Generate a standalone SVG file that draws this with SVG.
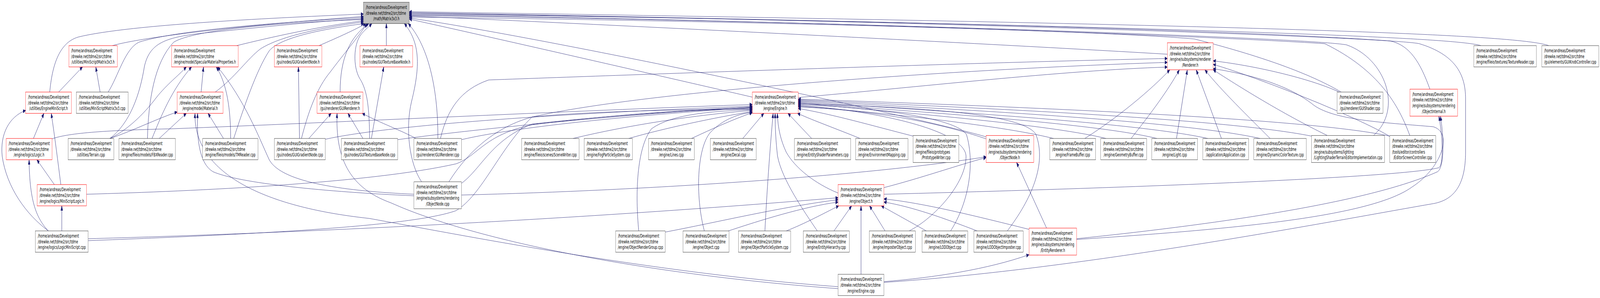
<svg xmlns="http://www.w3.org/2000/svg" width="7367" height="764" viewBox="0 0 7367 764" preserveAspectRatio="none">
<defs>
<marker id="ah" viewBox="0 0 12 10" refX="12" refY="5" markerWidth="12" markerHeight="10" markerUnits="userSpaceOnUse" orient="auto">
<path d="M0,0.5 L12,5 L0,9.5 Z" fill="#191970" stroke="#191970" stroke-width="1"/>
</marker>
<style>
svg{width:100vw;height:100vh;display:block}
.e{fill:none;stroke:#191970;stroke-width:1;marker-end:url(#ah)}
.n rect{fill:#ffffff;stroke:#404040;stroke-width:1}
.n.r rect{stroke:#ff0000}
.n.root rect{fill:#bfbfbf}
text{font-family:"DejaVu Sans","Liberation Sans",sans-serif;font-size:13px;fill:#000000}
.c{text-anchor:middle}
</style>
</defs>
<rect x="0" y="0" width="7367" height="764" fill="#ffffff"/>
<g id="edges">
<path class="e" d="M229,236 C240,170 270,110 360,95 C600,62 1300,45 1673.5,36"/>
<path class="e" d="M518,117 C620,100 1000,70 1673.5,42"/>
<path class="e" d="M498,236 C545,195 575,125 640,108 C800,80 1200,60 1673.5,45"/>
<path class="e" d="M506,355 C600,315 645,240 665,170 C690,110 760,95 950,84 C1200,70 1450,55 1673.5,48"/>
<path class="e" d="M679,355 C683,260 710,160 800,108 C900,75 1300,58 1673.5,50"/>
<path class="e" d="M1090,117 C1250,95 1450,70 1673.5,53"/>
<path class="e" d="M991,236 C1080,200 1140,150 1200,125 C1300,90 1500,70 1673.5,56"/>
<path class="e" d="M1076,355 C1120,280 1180,180 1240,130 C1300,90 1550,70 1676,60.4"/>
<path class="e" d="M1469,117 C1560,95 1640,75 1684,60.4"/>
<path class="e" d="M1388,355 C1420,285 1460,225 1520,185 C1580,140 1650,95 1690,60.4"/>
<path class="e" d="M1566,236 C1566,150 1610,95 1698,60.4"/>
<path class="e" d="M1702,355 C1700,270 1690,230 1655,200 C1625,170 1628,115 1660,90 C1676,78 1700,68 1712,60.4"/>
<path class="e" d="M1779,117 L1779,60.4"/>
<path class="e" d="M1941,466 C1885,420 1865,330 1895,260 C1935,170 1935,110 1862,60.4"/>
<path class="e" d="M2016,355 C2018,260 1990,130 1880,60.4"/>
<path class="e" d="M5375,139 C4500,110 2500,55 1884.5,41"/>
<path class="e" d="M3464,249 C3200,215 2300,100 1884.5,49"/>
<path class="e" d="M4541,351 C4300,310 2600,105 1884.5,46"/>
<path class="e" d="M7131,117 C7000,90 6000,65 1884.5,30"/>
<path class="e" d="M6819,117 C6720,100 6000,75 1884.5,32"/>
<path class="e" d="M6584,229 C6540,160 6490,115 6400,105 C5800,80 4000,50 1884.5,36"/>
<path class="e" d="M6491,347 C6440,270 6350,180 6100,112 C5500,90 3500,50 1884.5,38"/>
<path class="e" d="M6325,347 C6460,280 6380,150 6200,115 C6000,95 3500,50 1884.5,40"/>
<path class="e" d="M4070,724 C5000,690 6200,560 6600,522 C6700,512 6748,470 6748,390 L6748,253 C6748,190 6700,140 6535,112 C6400,95 4000,50 1884.5,34"/>
<path class="e" d="M6175,236 C6050,195 5850,150 5500,100 C5000,75 3000,50 1884.5,44"/>
<path class="e" d="M270,236 L380,171.6"/>
<path class="e" d="M154,355 L202,290.6"/>
<path class="e" d="M280,473 C268,420 252,350 236,290.6"/>
<path class="e" d="M223,592 C120,550 30,480 10,400 C0,345 40,300 118,283"/>
<path class="e" d="M461,236 L441,171.6"/>
<path class="e" d="M250,473 L170,409.6"/>
<path class="e" d="M222,592 C170,560 136,520 134,409.6"/>
<path class="e" d="M284.5,592 L284.5,527.8"/>
<path class="e" d="M239,356 C320,340 500,334 800,330 C1500,315 2800,280 3464,268"/>
<path class="e" d="M398,498 C900,490 1700,470 2100,420 C2200,400 2230,345 2450,320 C2800,295 3200,280 3464,275"/>
<path class="e" d="M406,612 C1200,600 2500,570 3859,507"/>
<path class="e" d="M406,617 C1200,600 1900,580 2100,540 C2220,500 2300,380 2450,300 C2700,285 3200,280 3464,280"/>
<path class="e" d="M926,236 L937,171.6"/>
<path class="e" d="M700,355 C740,300 790,230 882,171.6"/>
<path class="e" d="M733,355 L858,290.6"/>
<path class="e" d="M1029,355 L958,290.6"/>
<path class="e" d="M1062,355 C1062,280 1045,215 996,171.6"/>
<path class="e" d="M506,355 C600,330 680,280 720,250 C770,215 820,195 858,171.6"/>
<path class="e" d="M506,355 C600,338 720,305 816,287"/>
<path class="e" d="M1906,498 C1600,490 1300,470 1240,410 C1190,350 1130,260 1002,171.6"/>
<path class="e" d="M3859,735 C3000,700 2100,600 1700,560 C1200,530 890,440 898,290.6"/>
<path class="e" d="M1906,502 C1500,492 1100,470 980,440 C920,420 905,360 910,290.6"/>
<path class="e" d="M3859,740 C3000,705 2200,620 1800,520 C1600,480 1545,400 1552,290.6"/>
<path class="e" d="M1379,355 L1374,171.6"/>
<path class="e" d="M1422,355 L1525,290.6"/>
<path class="e" d="M1710,355 L1767,171.6"/>
<path class="e" d="M1671,355 L1602,290.6"/>
<path class="e" d="M1915,355 C1850,335 1750,315 1668,290.6"/>
<path class="e" d="M1498,357 C1800,320 2600,290 3464,272"/>
<path class="e" d="M1831,358 C2200,330 2900,292 3464,274"/>
<path class="e" d="M2125,358 C2400,322 3000,292 3464,276"/>
<path class="e" d="M2028,355 C2060,280 2120,230 2250,205 C3000,190 4500,160 5375,150"/>
<path class="e" d="M2125,470 C2220,430 2260,360 2450,318 C2900,290 3300,280 3464,278"/>
<path class="e" d="M2067,466 C2130,410 2250,330 2450,300 C3000,230 4500,175 5375,160"/>
<path class="e" d="M2125,500 C3000,488 4000,450 4540.5,402"/>
<path class="e" d="M3420,355 L3517,290.6"/>
<path class="e" d="M3522,592 C3530,500 3545,380 3560,290.6"/>
<path class="e" d="M3763,592 C3700,540 3600,460 3580,400 C3572,360 3569,330 3569,290.6"/>
<path class="e" d="M3859,495 C3750,470 3660,430 3620,390 C3595,360 3582,330 3579,290.6"/>
<path class="e" d="M3737,355 L3628,290.6"/>
<path class="e" d="M3960,355 C3850,330 3750,310 3672,290.6"/>
<path class="e" d="M4205,349 C4000,320 3850,295 3675,278"/>
<path class="e" d="M3184,355 C3280,330 3380,305 3464,289"/>
<path class="e" d="M2895,355 C3050,330 3300,300 3464,286"/>
<path class="e" d="M2638,355 C2900,320 3200,295 3464,283"/>
<path class="e" d="M2941,592 C2925,500 2930,380 3000,330 C3100,290 3300,285 3464,281"/>
<path class="e" d="M3243,592 C3200,500 3210,380 3270,340 C3330,305 3400,292 3464,288"/>
<path class="e" d="M4377,592 C4460,520 4490,420 4450,345 C4400,300 4000,275 3675,268"/>
<path class="e" d="M4638,592 C4750,510 4820,420 4770,345 C4720,295 4300,275 3675,266"/>
<path class="e" d="M4186,592 C4300,560 4450,470 4448,400 C4440,330 4000,282 3675,270"/>
<path class="e" d="M4851,355 C4600,320 4000,285 3675,272"/>
<path class="e" d="M5093,355 C4800,315 4000,282 3675,264"/>
<path class="e" d="M5327,355 C5000,310 4000,280 3675,262"/>
<path class="e" d="M5561,355 C5200,310 4100,278 3675,260"/>
<path class="e" d="M5802,355 C5400,305 4200,275 3675,258"/>
<path class="e" d="M6039,349 C5600,300 4300,272 3675,256"/>
<path class="e" d="M6399,349 C6000,300 4500,270 3675,254"/>
<path class="e" d="M4541,356 C4300,310 4000,282 3675,274"/>
<path class="e" d="M4995,355 C5150,300 5300,230 5386,179.2"/>
<path class="e" d="M5208,355 C5300,290 5380,230 5430,179.2"/>
<path class="e" d="M5417,355 L5467,179.2"/>
<path class="e" d="M5624,355 L5508,179.2"/>
<path class="e" d="M5848,355 C5750,300 5620,230 5548,179.2"/>
<path class="e" d="M6110,347 C5900,290 5700,220 5586,179"/>
<path class="e" d="M6400,350 C6250,300 5800,200 5586,165"/>
<path class="e" d="M6170,237 C6050,205 5800,170 5586,156"/>
<path class="e" d="M4957,614 C5600,590 6300,560 6500,480 C6640,430 6690,340 6600,325 C6400,315 6150,310 6050,270 C5950,225 5800,195 5586,176"/>
<path class="e" d="M3675,250 C4200,225 4900,180 5375,172"/>
<path class="e" d="M3840,592 L3921,527.8"/>
<path class="e" d="M3964.5,703.2 L3964.5,527.8"/>
<path class="e" d="M4075,592 L4004,527.8"/>
<path class="e" d="M4265,592 L4058,527.8"/>
<path class="e" d="M3354,592 C3500,565 3700,530 3859,518"/>
<path class="e" d="M3620,592 C3700,575 3800,545 3862,527.8"/>
<path class="e" d="M3063,595 C3300,570 3600,530 3859,512"/>
<path class="e" d="M4738,588 C4500,555 4250,520 4070,510"/>
<path class="e" d="M4499,592 C4350,560 4200,530 4070,518"/>
<path class="e" d="M4070,481 C4250,455 4400,425 4540.5,404"/>
<path class="e" d="M4819,585 L4681,416.6"/>
<path class="e" d="M4070,498 C5200,482 6450,455 6625,430 C6650,420 6640,340 6625,297.8"/>
<path class="e" d="M4957,612 C5600,575 6300,520 6620,440 C6652,425 6648,350 6632,297.8"/>
<path class="e" d="M4070,722 C4300,712 4550,690 4738,653"/>
</g>
<g id="node-matrix3x3-h" class="n root"><rect x="1673.5" y="5.8" width="211" height="54.6"/><text x="1684.5" y="23.1">/home/andreas/Development</text><text x="1684.5" y="37.7">/drewke.net/tdme2/src/tdme</text><text class="c" x="1779" y="52.3">/math/Matrix3x3.h</text></g>
<g id="node-miniscriptmatrix3x3-h" class="n r"><rect x="317" y="117" width="223" height="54.6"/><text x="328" y="134.3">/home/andreas/Development</text><text x="328" y="148.9">/drewke.net/tdme2/src/tdme</text><text class="c" x="428.5" y="163.5">/utilities/MiniScriptMatrix3x3.h</text></g>
<g id="node-specularmaterialproperties-h" class="n r"><rect x="790" y="117" width="307" height="54.6"/><text x="801" y="134.3">/home/andreas/Development</text><text x="801" y="148.9">/drewke.net/tdme2/src/tdme</text><text class="c" x="943.5" y="163.5">/engine/model/SpecularMaterialProperties.h</text></g>
<g id="node-guigradientnode-h" class="n r"><rect x="1263" y="117" width="219" height="54.6"/><text x="1274" y="134.3">/home/andreas/Development</text><text x="1274" y="148.9">/drewke.net/tdme2/src/tdme</text><text class="c" x="1372.5" y="163.5">/gui/nodes/GUIGradientNode.h</text></g>
<g id="node-guitexturebasenode-h" class="n r"><rect x="1657" y="117" width="243.5" height="54.6"/><text x="1668" y="134.3">/home/andreas/Development</text><text x="1668" y="148.9">/drewke.net/tdme2/src/tdme</text><text class="c" x="1778.8" y="163.5">/gui/nodes/GUITextureBaseNode.h</text></g>
<g id="node-renderer-h" class="n r"><rect x="5375" y="109.7" width="211" height="69.2"/><text x="5386" y="127">/home/andreas/Development</text><text x="5386" y="141.6">/drewke.net/tdme2/src/tdme</text><text x="5386" y="156.2">/engine/subsystems/renderer</text><text class="c" x="5480.5" y="170.8">/Renderer.h</text></g>
<g id="node-texturereader-cpp" class="n"><rect x="6786" y="117" width="288" height="54.6"/><text x="6797" y="134.3">/home/andreas/Development</text><text x="6797" y="148.9">/drewke.net/tdme2/src/tdme</text><text class="c" x="6930" y="163.5">/engine/fileio/textures/TextureReader.cpp</text></g>
<g id="node-guiknobcontroller-cpp" class="n"><rect x="7099" y="117" width="262.5" height="54.6"/><text x="7110" y="134.3">/home/andreas/Development</text><text x="7110" y="148.9">/drewke.net/tdme2/src/tdme</text><text class="c" x="7230.2" y="163.5">/gui/elements/GUIKnobController.cpp</text></g>
<g id="node-engineminiscript-h" class="n r"><rect x="118" y="236" width="211" height="54.6"/><text x="129" y="253.3">/home/andreas/Development</text><text x="129" y="267.9">/drewke.net/tdme2/src/tdme</text><text class="c" x="223.5" y="282.5">/utilities/EngineMiniScript.h</text></g>
<g id="node-miniscriptmatrix3x3-cpp" class="n"><rect x="352" y="236" width="238" height="54.6"/><text x="363" y="253.3">/home/andreas/Development</text><text x="363" y="267.9">/drewke.net/tdme2/src/tdme</text><text class="c" x="471" y="282.5">/utilities/MiniScriptMatrix3x3.cpp</text></g>
<g id="node-material-h" class="n r"><rect x="816" y="236" width="211" height="54.6"/><text x="827" y="253.3">/home/andreas/Development</text><text x="827" y="267.9">/drewke.net/tdme2/src/tdme</text><text class="c" x="921.5" y="282.5">/engine/model/Material.h</text></g>
<g id="node-guirenderer-h" class="n r"><rect x="1460" y="236" width="211" height="54.6"/><text x="1471" y="253.3">/home/andreas/Development</text><text x="1471" y="267.9">/drewke.net/tdme2/src/tdme</text><text class="c" x="1565.5" y="282.5">/gui/renderer/GUIRenderer.h</text></g>
<g id="node-engine-h" class="n r"><rect x="3464" y="236" width="211" height="54.6"/><text x="3475" y="253.3">/home/andreas/Development</text><text x="3475" y="267.9">/drewke.net/tdme2/src/tdme</text><text class="c" x="3569.5" y="282.5">/engine/Engine.h</text></g>
<g id="node-guishader-cpp" class="n"><rect x="6156.5" y="236" width="211" height="54.6"/><text x="6167.5" y="253.3">/home/andreas/Development</text><text x="6167.5" y="267.9">/drewke.net/tdme2/src/tdme</text><text class="c" x="6262" y="282.5">/gui/renderer/GUIShader.cpp</text></g>
<g id="node-objectinternal-h" class="n r"><rect x="6492" y="228.6" width="219.5" height="69.2"/><text x="6503" y="245.9">/home/andreas/Development</text><text x="6503" y="260.5">/drewke.net/tdme2/src/tdme</text><text x="6503" y="275.1">/engine/subsystems/rendering</text><text class="c" x="6601.8" y="289.7">/ObjectInternal.h</text></g>
<g id="node-logic-h" class="n r"><rect x="28.5" y="355" width="211" height="54.6"/><text x="39.5" y="372.3">/home/andreas/Development</text><text x="39.5" y="386.9">/drewke.net/tdme2/src/tdme</text><text class="c" x="134" y="401.5">/engine/logics/Logic.h</text></g>
<g id="node-terrain-cpp" class="n"><rect x="313.6" y="355" width="211" height="54.6"/><text x="324.6" y="372.3">/home/andreas/Development</text><text x="324.6" y="386.9">/drewke.net/tdme2/src/tdme</text><text class="c" x="419.1" y="401.5">/utilities/Terrain.cpp</text></g>
<g id="node-fbxreader-cpp" class="n"><rect x="547.6" y="355" width="260" height="54.6"/><text x="558.6" y="372.3">/home/andreas/Development</text><text x="558.6" y="386.9">/drewke.net/tdme2/src/tdme</text><text class="c" x="677.6" y="401.5">/engine/fileio/models/FBXReader.cpp</text></g>
<g id="node-tmreader-cpp" class="n"><rect x="933" y="355" width="255" height="54.6"/><text x="944" y="372.3">/home/andreas/Development</text><text x="944" y="386.9">/drewke.net/tdme2/src/tdme</text><text class="c" x="1060.5" y="401.5">/engine/fileio/models/TMReader.cpp</text></g>
<g id="node-guigradientnode-cpp" class="n"><rect x="1263" y="355" width="235" height="54.6"/><text x="1274" y="372.3">/home/andreas/Development</text><text x="1274" y="386.9">/drewke.net/tdme2/src/tdme</text><text class="c" x="1380.5" y="401.5">/gui/nodes/GUIGradientNode.cpp</text></g>
<g id="node-guitexturebasenode-cpp" class="n"><rect x="1572" y="355" width="259" height="54.6"/><text x="1583" y="372.3">/home/andreas/Development</text><text x="1583" y="386.9">/drewke.net/tdme2/src/tdme</text><text class="c" x="1701.5" y="401.5">/gui/nodes/GUITextureBaseNode.cpp</text></g>
<g id="node-guirenderer-cpp" class="n"><rect x="1906" y="355" width="219" height="54.6"/><text x="1917" y="372.3">/home/andreas/Development</text><text x="1917" y="386.9">/drewke.net/tdme2/src/tdme</text><text class="c" x="2015.5" y="401.5">/gui/renderer/GUIRenderer.cpp</text></g>
<g id="node-scenewriter-cpp" class="n"><rect x="2402" y="355" width="264" height="54.6"/><text x="2413" y="372.3">/home/andreas/Development</text><text x="2413" y="386.9">/drewke.net/tdme2/src/tdme</text><text class="c" x="2534" y="401.5">/engine/fileio/scenes/SceneWriter.cpp</text></g>
<g id="node-fogparticlesystem-cpp" class="n"><rect x="2690" y="355" width="222" height="54.6"/><text x="2701" y="372.3">/home/andreas/Development</text><text x="2701" y="386.9">/drewke.net/tdme2/src/tdme</text><text class="c" x="2801" y="401.5">/engine/FogParticleSystem.cpp</text></g>
<g id="node-lines-cpp" class="n"><rect x="2986" y="355" width="211" height="54.6"/><text x="2997" y="372.3">/home/andreas/Development</text><text x="2997" y="386.9">/drewke.net/tdme2/src/tdme</text><text class="c" x="3091.5" y="401.5">/engine/Lines.cpp</text></g>
<g id="node-decal-cpp" class="n"><rect x="3271" y="355" width="211" height="54.6"/><text x="3282" y="372.3">/home/andreas/Development</text><text x="3282" y="386.9">/drewke.net/tdme2/src/tdme</text><text class="c" x="3376.5" y="401.5">/engine/Decal.cpp</text></g>
<g id="node-entityshaderparameters-cpp" class="n"><rect x="3658" y="355" width="259" height="54.6"/><text x="3669" y="372.3">/home/andreas/Development</text><text x="3669" y="386.9">/drewke.net/tdme2/src/tdme</text><text class="c" x="3787.5" y="401.5">/engine/EntityShaderParameters.cpp</text></g>
<g id="node-environmentmapping-cpp" class="n"><rect x="3940" y="355" width="240.5" height="54.6"/><text x="3951" y="372.3">/home/andreas/Development</text><text x="3951" y="386.9">/drewke.net/tdme2/src/tdme</text><text class="c" x="4060.2" y="401.5">/engine/EnvironmentMapping.cpp</text></g>
<g id="node-prototypewriter-cpp" class="n"><rect x="4204.5" y="347.4" width="210.6" height="69.2"/><text x="4215.5" y="364.7">/home/andreas/Development</text><text x="4215.5" y="379.3">/drewke.net/tdme2/src/tdme</text><text x="4215.5" y="393.9">/engine/fileio/prototypes</text><text class="c" x="4309.8" y="408.5">/PrototypeWriter.cpp</text></g>
<g id="node-objectnode-h" class="n r"><rect x="4540.5" y="347.4" width="219" height="69.2"/><text x="4551.5" y="364.7">/home/andreas/Development</text><text x="4551.5" y="379.3">/drewke.net/tdme2/src/tdme</text><text x="4551.5" y="393.9">/engine/subsystems/rendering</text><text class="c" x="4650" y="408.5">/ObjectNode.h</text></g>
<g id="node-framebuffer-cpp" class="n"><rect x="4834" y="355" width="210.6" height="54.6"/><text x="4845" y="372.3">/home/andreas/Development</text><text x="4845" y="386.9">/drewke.net/tdme2/src/tdme</text><text class="c" x="4939.3" y="401.5">/engine/FrameBuffer.cpp</text></g>
<g id="node-geometrybuffer-cpp" class="n"><rect x="5068" y="355" width="211.6" height="54.6"/><text x="5079" y="372.3">/home/andreas/Development</text><text x="5079" y="386.9">/drewke.net/tdme2/src/tdme</text><text class="c" x="5173.8" y="401.5">/engine/GeometryBuffer.cpp</text></g>
<g id="node-light-cpp" class="n"><rect x="5303" y="355" width="211" height="54.6"/><text x="5314" y="372.3">/home/andreas/Development</text><text x="5314" y="386.9">/drewke.net/tdme2/src/tdme</text><text class="c" x="5408.5" y="401.5">/engine/Light.cpp</text></g>
<g id="node-application-cpp" class="n"><rect x="5538" y="355" width="211" height="54.6"/><text x="5549" y="372.3">/home/andreas/Development</text><text x="5549" y="386.9">/drewke.net/tdme2/src/tdme</text><text class="c" x="5643.5" y="401.5">/application/Application.cpp</text></g>
<g id="node-dynamiccolortexture-cpp" class="n"><rect x="5773" y="355" width="241.6" height="54.6"/><text x="5784" y="372.3">/home/andreas/Development</text><text x="5784" y="386.9">/drewke.net/tdme2/src/tdme</text><text class="c" x="5893.8" y="401.5">/engine/DynamicColorTexture.cpp</text></g>
<g id="node-lightingshaderterraineditorimplementation-cpp" class="n"><rect x="6039" y="347.4" width="336" height="69.2"/><text x="6050" y="364.7">/home/andreas/Development</text><text x="6050" y="379.3">/drewke.net/tdme2/src/tdme</text><text x="6050" y="393.9">/engine/subsystems/lighting</text><text class="c" x="6207" y="408.5">/LightingShaderTerrainEditorImplementation.cpp</text></g>
<g id="node-editorscreencontroller-cpp" class="n"><rect x="6399" y="347.4" width="211.5" height="69.2"/><text x="6410" y="364.7">/home/andreas/Development</text><text x="6410" y="379.3">/drewke.net/tdme2/src/tdme</text><text x="6410" y="393.9">/tools/editor/controllers</text><text class="c" x="6504.8" y="408.5">/EditorScreenController.cpp</text></g>
<g id="node-miniscriptlogic-h" class="n r"><rect x="171" y="473.2" width="227" height="54.6"/><text x="182" y="490.5">/home/andreas/Development</text><text x="182" y="505.1">/drewke.net/tdme2/src/tdme</text><text class="c" x="284.5" y="519.7">/engine/logics/MiniScriptLogic.h</text></g>
<g id="node-objectnode-cpp" class="n"><rect x="1906" y="466" width="219" height="69.2"/><text x="1917" y="483.3">/home/andreas/Development</text><text x="1917" y="497.9">/drewke.net/tdme2/src/tdme</text><text x="1917" y="512.5">/engine/subsystems/rendering</text><text class="c" x="2015.5" y="527.1">/ObjectNode.cpp</text></g>
<g id="node-object-h" class="n r"><rect x="3859" y="473.2" width="211" height="54.6"/><text x="3870" y="490.5">/home/andreas/Development</text><text x="3870" y="505.1">/drewke.net/tdme2/src/tdme</text><text class="c" x="3964.5" y="519.7">/engine/Object.h</text></g>
<g id="node-logicminiscript-cpp" class="n"><rect x="163" y="592" width="243" height="54.6"/><text x="174" y="609.3">/home/andreas/Development</text><text x="174" y="623.9">/drewke.net/tdme2/src/tdme</text><text class="c" x="284.5" y="638.5">/engine/logics/LogicMiniScript.cpp</text></g>
<g id="node-objectrendergroup-cpp" class="n"><rect x="2834.6" y="592" width="228.4" height="54.6"/><text x="2845.6" y="609.3">/home/andreas/Development</text><text x="2845.6" y="623.9">/drewke.net/tdme2/src/tdme</text><text class="c" x="2948.8" y="638.5">/engine/ObjectRenderGroup.cpp</text></g>
<g id="node-object-cpp" class="n"><rect x="3145" y="592" width="211.5" height="54.6"/><text x="3156" y="609.3">/home/andreas/Development</text><text x="3156" y="623.9">/drewke.net/tdme2/src/tdme</text><text class="c" x="3250.8" y="638.5">/engine/Object.cpp</text></g>
<g id="node-objectparticlesystem-cpp" class="n"><rect x="3400" y="592" width="240.5" height="54.6"/><text x="3411" y="609.3">/home/andreas/Development</text><text x="3411" y="623.9">/drewke.net/tdme2/src/tdme</text><text class="c" x="3520.2" y="638.5">/engine/ObjectParticleSystem.cpp</text></g>
<g id="node-entityhierarchy-cpp" class="n"><rect x="3699" y="592" width="211.5" height="54.6"/><text x="3710" y="609.3">/home/andreas/Development</text><text x="3710" y="623.9">/drewke.net/tdme2/src/tdme</text><text class="c" x="3804.8" y="638.5">/engine/EntityHierarchy.cpp</text></g>
<g id="node-imposterobject-cpp" class="n"><rect x="4003" y="592" width="211.6" height="54.6"/><text x="4014" y="609.3">/home/andreas/Development</text><text x="4014" y="623.9">/drewke.net/tdme2/src/tdme</text><text class="c" x="4108.8" y="638.5">/engine/ImposterObject.cpp</text></g>
<g id="node-lodobject-cpp" class="n"><rect x="4245.6" y="592" width="210.6" height="54.6"/><text x="4256.6" y="609.3">/home/andreas/Development</text><text x="4256.6" y="623.9">/drewke.net/tdme2/src/tdme</text><text class="c" x="4350.9" y="638.5">/engine/LODObject.cpp</text></g>
<g id="node-lodobjectimposter-cpp" class="n"><rect x="4484" y="592" width="227" height="54.6"/><text x="4495" y="609.3">/home/andreas/Development</text><text x="4495" y="623.9">/drewke.net/tdme2/src/tdme</text><text class="c" x="4597.5" y="638.5">/engine/LODObjectImposter.cpp</text></g>
<g id="node-entityrenderer-h" class="n r"><rect x="4738" y="584.8" width="219" height="69.2"/><text x="4749" y="602.1">/home/andreas/Development</text><text x="4749" y="616.7">/drewke.net/tdme2/src/tdme</text><text x="4749" y="631.3">/engine/subsystems/rendering</text><text class="c" x="4847.5" y="645.9">/EntityRenderer.h</text></g>
<g id="node-engine-cpp" class="n"><rect x="3859" y="703.2" width="211" height="54.6"/><text x="3870" y="720.5">/home/andreas/Development</text><text x="3870" y="735.1">/drewke.net/tdme2/src/tdme</text><text class="c" x="3964.5" y="749.7">/engine/Engine.cpp</text></g>
</svg>
